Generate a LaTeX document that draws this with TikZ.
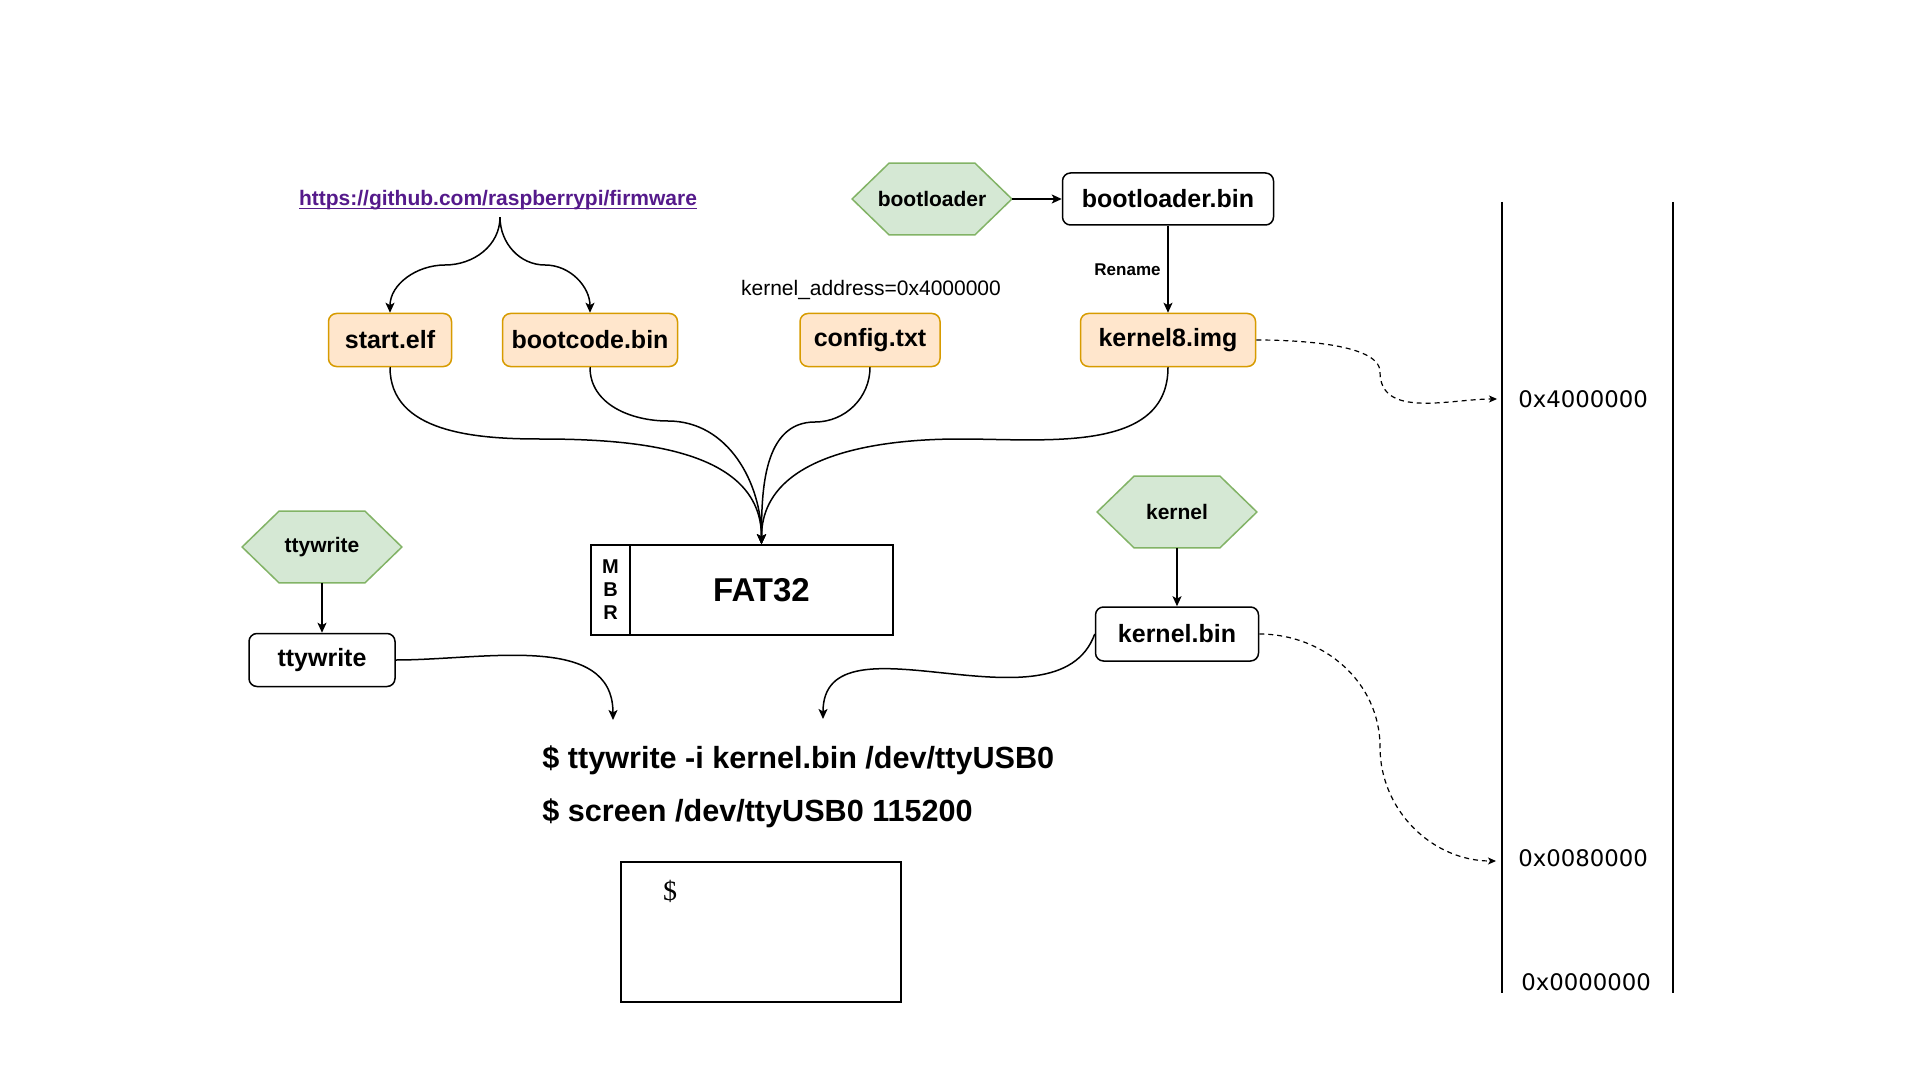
\documentclass[tikz,border=0pt]{standalone}
\usepackage{fontspec}
\setmainfont{Liberation Sans}
\newfontfamily\memfont{DejaVu Sans}
\newfontfamily\termfont{Liberation Serif}
\usetikzlibrary{arrows.meta}

\definecolor{fwfill}{HTML}{FFE6CC}
\definecolor{fwdraw}{HTML}{D79B00}
\definecolor{srcfill}{HTML}{D5E8D4}
\definecolor{srcdraw}{HTML}{82B366}
\definecolor{linkpurple}{HTML}{551A8B}

\pgfdeclarelayer{hexback}
\pgfsetlayers{hexback,main}

\tikzset{
  fwbox/.style={draw=fwdraw, fill=fwfill, rounded corners=4pt, line width=0.75pt,
    minimum height=26.5pt, font=\bfseries\fontsize{12.5}{15}\selectfont},
  binbox/.style={draw, fill=white, rounded corners=4pt, line width=0.75pt,
    minimum height=26.5pt, font=\bfseries\fontsize{12.5}{15}\selectfont},
  hexa/.style={minimum width=79.5pt, minimum height=35.5pt, inner sep=0pt,
    font=\bfseries\fontsize{10.5}{12}\selectfont,
    append after command={\pgfextra{
      \begin{pgfonlayer}{hexback}
        \draw [draw=srcdraw, fill=srcfill, line width=0.75pt]
          (\tikzlastnode.west)
          -- ([xshift=18.5pt]\tikzlastnode.north west)
          -- ([xshift=-18.5pt]\tikzlastnode.north east)
          -- (\tikzlastnode.east)
          -- ([xshift=-18.5pt]\tikzlastnode.south east)
          -- ([xshift=18.5pt]\tikzlastnode.south west) -- cycle;
      \end{pgfonlayer}}}},
  cmd/.style={anchor=west, inner sep=0pt, font=\bfseries\fontsize{15.3}{18}\selectfont},
  memlabel/.style={font=\memfont\fontsize{11.4}{13}\selectfont},
  arr/.style={-{Stealth[length=5pt, width=4.5pt, inset=1.2pt]}, line width=0.75pt},
  memarr/.style={-{Stealth[length=4pt, width=3.5pt, inset=1pt]}, line width=0.6pt,
    dash pattern=on 2.5pt off 2pt},
}

\begin{document}
\begin{tikzpicture}[x=0.5pt, y=-0.5pt]

  \useasboundingbox (0,0) rectangle (1920,1080);

  % Firmware files from the repository.
  \node [font=\bfseries\fontsize{10.5}{12}\selectfont, text=linkpurple] (url) at (498,208)
        {\underline{\smash{https://github.com/raspberrypi/firmware}}};
  \node [fwbox, minimum width=61.5pt] (startelf) at (390,340) {start.elf};
  \node [fwbox, minimum width=87.5pt] (bootcode) at (590,340) {bootcode.bin};
  \node [fwbox, minimum width=70pt]   (config)   at (870,340) {config.txt};
  \node [fwbox, minimum width=87.5pt] (kernel8)  at (1168,340) {kernel8.img};
  \node [font=\fontsize{10.5}{12}\selectfont] (kaddr) at (871,290)
        {kernel\_address=0x4000000};

  % Bootloader build.
  \node [hexa] (bootsrc) at (932,199) {bootloader};
  \node [binbox, minimum width=105.5pt, minimum height=26pt] (bootbin) at (1168,199)
        {bootloader.bin};

  % SD card.
  \node [draw, line width=0.75pt, minimum width=131.5pt, minimum height=45pt,
         font=\bfseries\fontsize{16.5}{20}\selectfont] (fat) at (761.5,590) {FAT32};
  \node [draw, line width=0.75pt, minimum width=19.5pt, minimum height=45pt,
         inner sep=0pt, align=center, font=\bfseries\fontsize{10}{11.5}\selectfont]
        (mbr) at (610.5,590) {M\\B\\R};

  % ttywrite and kernel.
  \node [hexa] (ttysrc) at (322,547) {ttywrite};
  \node [binbox, minimum width=73pt] (ttybin) at (322,660) {ttywrite};
  \node [hexa] (kernsrc) at (1177,512) {kernel};
  \node [binbox, minimum width=81.5pt, minimum height=27pt] (kernbin) at (1177,634)
        {kernel.bin};

  % Commands and terminal.
  \node [cmd] (cmdwrite)  at (542,760) {\$ ttywrite -i kernel.bin /dev/ttyUSB0};
  \node [cmd] (cmdscreen) at (542,813) {\$ screen /dev/ttyUSB0 115200};
  \node [draw, line width=0.75pt, minimum width=140pt, minimum height=70pt]
        (term) at (761,932) {};
  \node [font=\termfont\fontsize{14}{16}\selectfont] (prompt) at (670,891) {\$};

  % Memory map.
  \draw [line width=1pt] (1502,202) -- (1502,993);
  \draw [line width=1pt] (1673,202) -- (1673,993);
  \node [memlabel] (memhi)   at (1583,399) {0x4000000};
  \node [memlabel] (memlo)   at (1583,858) {0x0080000};
  \node [memlabel] (memzero) at (1586,982) {0x0000000};
  \coordinate (hiaddr) at (1497,399);
  \coordinate (loaddr) at (1496,861);
  \coordinate (ttyend) at (613,720);
  \coordinate (kernend) at (823,719);

  % Bends of the curved connectors.
  \coordinate (forkleft)  at (445,265);
  \coordinate (forkright) at (545,265);
  \coordinate (bendstart) at (540,439);
  \coordinate (bendboot)  at (668,421);
  \coordinate (bendconf)  at (815,422);
  \coordinate (bendkern)  at (960,439);
  \coordinate (bendhi)    at (1380,372);
  \coordinate (bendlo)    at (1380,747);

  % Connectors.
  \draw [arr] ([xshift=1pt]url.south) to [out=-90, in=0] (forkleft)
        to [out=180, in=90] (startelf.north);
  \draw [arr] ([xshift=1pt]url.south) to [out=-90, in=180] (forkright)
        to [out=0, in=90] (bootcode.north);
  \draw [arr] (startelf.south) to [out=-90, in=180] (bendstart)
        to [out=0, in=90] (fat.north);
  \draw [arr] (bootcode.south) to [out=-90, in=180] (bendboot)
        to [out=0, in=90] (fat.north);
  \draw [arr] (config.south) to [out=-90, in=0] (bendconf)
        to [out=180, in=90] (fat.north);
  \draw [arr] (kernel8.south) to [out=-90, in=0] (bendkern)
        to [out=180, in=90] (fat.north);
  \draw [arr] (bootsrc) -- (bootbin);
  \draw [arr] (bootbin) -- (kernel8)
        node [midway, left, font=\bfseries\fontsize{8.5}{10}\selectfont] {Rename};
  \draw [arr] (ttysrc) -- (ttybin);
  \draw [arr] (kernsrc) -- (kernbin);
  \draw [arr] (ttybin.east) to [out=0, in=90] (ttyend);
  \draw [arr] (kernbin.west) to [out=-110, in=90] (kernend);
  \draw [memarr] (kernel8.east) to [out=0, in=90, looseness=0.6] (bendhi)
        to [out=-90, in=180] (hiaddr);
  \draw [memarr] (kernbin.east) to [out=0, in=90] (bendlo)
        to [out=-90, in=180] (loaddr);

\end{tikzpicture}
\end{document}
